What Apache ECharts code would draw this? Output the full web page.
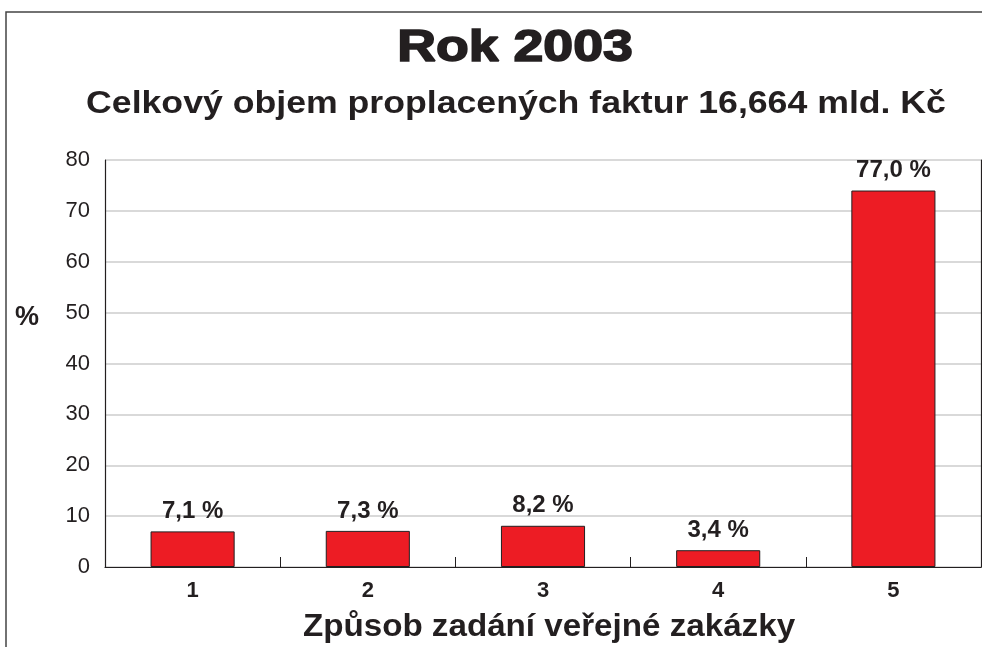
<!DOCTYPE html>
<html>
<head>
<meta charset="utf-8">
<script src="https://cdn.jsdelivr.net/npm/echarts@6/dist/echarts.min.js"></script>
<style>
html,body{margin:0;padding:0;background:#fff;}
#chart{width:982px;height:647px;}
</style>
</head>
<body>
<div id="chart"></div>
<script>
var categories = ['1', '2', '3', '4', '5'];
var barHeights = [7.0, 7.1, 8.1, 3.3, 74.0];
var barLabels = ['7,1 %', '7,3 %', '8,2 %', '3,4 %', '77,0 %'];
var yTicks = [0, 10, 20, 30, 40, 50, 60, 70, 80];
var titleText = 'Rok 2003';
var subtitleText = 'Celkový objem proplacených faktur 16,664 mld. Kč';
var xAxisName = 'Způsob zadání veřejné zakázky';
var yAxisName = '%';

var FONT = '"Liberation Sans", Arial, Helvetica, sans-serif';
var chart = echarts.init(document.getElementById('chart'), null, {renderer: 'canvas'});
var option = {
  backgroundColor: '#fff',
  animation: false,
  grid: {left: 105, right: 1, top: 160, bottom: 80, containLabel: false},
  graphic: [
    {type: 'rect', shape: {x: 6, y: 12, width: 1100, height: 800}, style: {fill: 'none', stroke: '#444', lineWidth: 1.5}, silent: true},
    {type: 'text', x: 515, y: 49, scaleX: 1.22, style: {text: titleText, font: 'bold 44px ' + FONT, fill: '#231f20', stroke: '#231f20', lineWidth: 1.6, textAlign: 'center', textVerticalAlign: 'middle'}},
    {type: 'text', x: 516, y: 104, scaleX: 1.15, style: {text: subtitleText, font: 'bold 31px ' + FONT, fill: '#231f20', textAlign: 'center', textVerticalAlign: 'middle'}},
    {type: 'text', x: 27, y: 318, style: {text: yAxisName, font: 'bold 27px ' + FONT, fill: '#231f20', textAlign: 'center', textVerticalAlign: 'middle'}},
    {type: 'text', x: 549, y: 627, scaleX: 1.07, style: {text: xAxisName, font: 'bold 31px ' + FONT, fill: '#231f20', textAlign: 'center', textVerticalAlign: 'middle'}}
  ],
  xAxis: {
    type: 'category',
    data: categories,
    boundaryGap: true,
    axisLine: {lineStyle: {color: '#231f20', width: 1.2}},
    axisTick: {show: true, inside: true, length: 10, lineStyle: {color: '#231f20', width: 1}},
    axisLabel: {color: '#231f20', fontFamily: FONT, fontWeight: 'bold', fontSize: 22, margin: 13}
  },
  yAxis: [{
    type: 'value',
    min: yTicks[0],
    max: yTicks[yTicks.length - 1],
    interval: 10,
    axisLine: {show: true, lineStyle: {color: '#231f20', width: 1.2}},
    axisTick: {show: false},
    axisLabel: {color: '#231f20', fontFamily: FONT, fontSize: 22, margin: 15},
    splitLine: {show: true, lineStyle: {color: '#cccccc', width: 1.5}}
  }, {
    type: 'value',
    position: 'right',
    min: yTicks[0],
    max: yTicks[yTicks.length - 1],
    interval: 10,
    axisLine: {show: true, lineStyle: {color: '#231f20', width: 1.2}},
    axisTick: {show: false},
    axisLabel: {show: false},
    splitLine: {show: false}
  }],
  series: [{
    type: 'bar',
    data: barHeights,
    barWidth: '48%',
    itemStyle: {color: '#ed1c24', borderColor: '#231f20', borderWidth: 1},
    label: {
      show: true,
      position: 'top',
      distance: 8,
      color: '#231f20',
      fontFamily: FONT,
      fontWeight: 'bold',
      fontSize: 24,
      formatter: function (p) { return barLabels[p.dataIndex]; }
    }
  }]
};
chart.setOption(option);
</script>
</body>
</html>
